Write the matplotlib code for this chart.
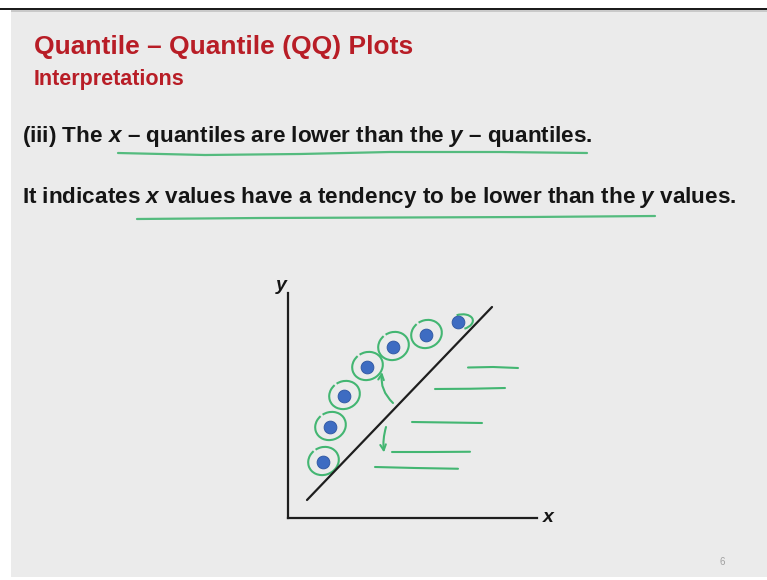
import matplotlib
matplotlib.use("Agg")
import matplotlib.pyplot as plt
from matplotlib.patches import Arc, Rectangle

# ── page / style setup ───────────────────────────────────────────────────
W, H = 767, 580
SLIDE_BG = "#ebebeb"
TITLE_RED = "#b81d26"
INK = "#151515"
PEN_GREEN = "#43b672"
DOT_BLUE = "#3e6cc2"

plt.rcParams.update({
    "font.family": ["Liberation Sans", "DejaVu Sans"],
    "font.weight": "bold",
    "mathtext.fontset": "custom",
    "mathtext.rm": "Liberation Sans:bold",
    "mathtext.it": "Liberation Sans:italic:bold",
})

TITLE = "Quantile – Quantile (QQ) Plots"
SUBTITLE = "Interpretations"
CASE_TEXT = "(iii) The $x$ – quantiles are lower than the $y$ – quantiles."
MEANING_TEXT = "It indicates $x$ values have a tendency to be lower than the $y$ values."
PAGE_NO = "6"

# sketch data: (x-quantile, y-quantile) pairs sitting above the 45° line
X_Q = [1.40, 1.68, 2.24, 3.16, 4.20, 5.52, 6.80]
Y_Q = [2.24, 3.64, 4.88, 6.04, 6.84, 7.32, 7.84]
REF_X = [0.76, 8.16]
REF_Y = [0.72, 8.44]
X_MAX, Y_MAX = 9.96, 9.0

# pen strokes drawn over the slide (hatching below the line, arrows)
HATCH_X = [[7.20, 8.2, 9.20], [5.88, 7.3, 8.68], [4.96, 6.4, 7.76],
           [4.16, 5.7, 7.28], [3.48, 5.1, 6.80]]
HATCH_Y = [[6.02, 6.04, 6.00], [5.16, 5.17, 5.20], [3.84, 3.82, 3.80],
           [2.64, 2.64, 2.65], [2.04, 2.00, 1.97]]
UP_ARROW = ((4.20, 4.60), (3.76, 5.84))
DOWN_ARROW = ((3.92, 3.64), (3.84, 2.62))

# underline strokes in slide pixels
UNDERLINE_1 = ([118, 205, 300, 390, 500, 587], [153, 155, 154, 152, 152, 153])
UNDERLINE_2 = ([137, 260, 400, 530, 655], [219, 218, 217.5, 217, 216])

fig = plt.figure(figsize=(W / 100, H / 100), dpi=100)
fig.patch.set_facecolor("white")

# slide canvas in pixel units
bg = fig.add_axes([0, 0, 1, 1])
bg.set_xlim(0, W)
bg.set_ylim(H, 0)
bg.axis("off")
bg.add_patch(Rectangle((11, 10), W - 11, H - 13, facecolor=SLIDE_BG, edgecolor="none"))
bg.add_patch(Rectangle((0, 8), W, 2.2, facecolor="#1c1c1c", edgecolor="none"))
bg.add_patch(Rectangle((11, 10.2), W - 11, 2, facecolor="#c9c9c9", edgecolor="none"))

bg.text(34, 54, TITLE, color=TITLE_RED, fontsize=19, va="baseline")
bg.text(34, 85, SUBTITLE, color=TITLE_RED, fontsize=15.5, va="baseline")
bg.text(22, 142, CASE_TEXT, color=INK, fontsize=16.2, va="baseline")
bg.text(22, 203, MEANING_TEXT, color=INK, fontsize=16.2, va="baseline")
bg.text(722, 565, PAGE_NO, color="#a0a0a0", fontsize=7, ha="center",
        va="baseline", fontweight="normal")

for xs, ys in (UNDERLINE_1, UNDERLINE_2):
    bg.plot(xs, ys, color=PEN_GREEN, lw=1.6, solid_capstyle="round",
            solid_joinstyle="round", alpha=0.9)

# QQ sketch
ax = fig.add_axes([288 / W, 62 / H, 249 / W, 225 / H])
ax.set_xlim(0, X_MAX)
ax.set_ylim(0, Y_MAX)
ax.patch.set_alpha(0)
for side in ("top", "right"):
    ax.spines[side].set_visible(False)
for side in ("left", "bottom"):
    ax.spines[side].set_linewidth(1.6)
    ax.spines[side].set_color("#1e1e1e")
ax.set_xticks([])
ax.set_yticks([])
ax.text(-0.28, 9.3, "y", fontsize=14, fontstyle="italic", color=INK,
        ha="center", va="center", clip_on=False)
ax.text(10.4, 0.0, "x", fontsize=14, fontstyle="italic", color=INK,
        ha="center", va="center", clip_on=False)

ax.plot(REF_X, REF_Y, color="#1e1e1e", lw=1.6, solid_capstyle="round")

ax.scatter(X_Q, Y_Q, s=85, color=DOT_BLUE, edgecolor="#2d55a0",
           linewidth=0.6, zorder=4, clip_on=False)

# pen loops round each point, the last one only gets a hook
for i, (px, py) in enumerate(zip(X_Q, Y_Q)):
    if i == len(X_Q) - 1:
        ax.add_patch(Arc((px + 0.1, py), 1.0, 0.6, angle=10, theta1=-70,
                         theta2=110, color=PEN_GREEN, lw=1.5))
        continue
    ax.add_patch(Arc((px + 0.02, py + 0.04), 1.25, 1.1, angle=25, theta1=110,
                     theta2=460, color=PEN_GREEN, lw=1.5))

for xs, ys in zip(HATCH_X, HATCH_Y):
    ax.plot(xs, ys, color=PEN_GREEN, lw=1.5, solid_capstyle="round",
            solid_joinstyle="round")

for start, end, rad in ((UP_ARROW[0], UP_ARROW[1], -0.25),
                        (DOWN_ARROW[0], DOWN_ARROW[1], 0.1)):
    ax.annotate("", xy=end, xytext=start,
                arrowprops=dict(arrowstyle="->", color=PEN_GREEN, lw=1.5,
                                mutation_scale=10,
                                connectionstyle=f"arc3,rad={rad}",
                                shrinkA=0, shrinkB=0))

fig.savefig("out.png", dpi=100, facecolor=fig.get_facecolor())
plt.close(fig)
